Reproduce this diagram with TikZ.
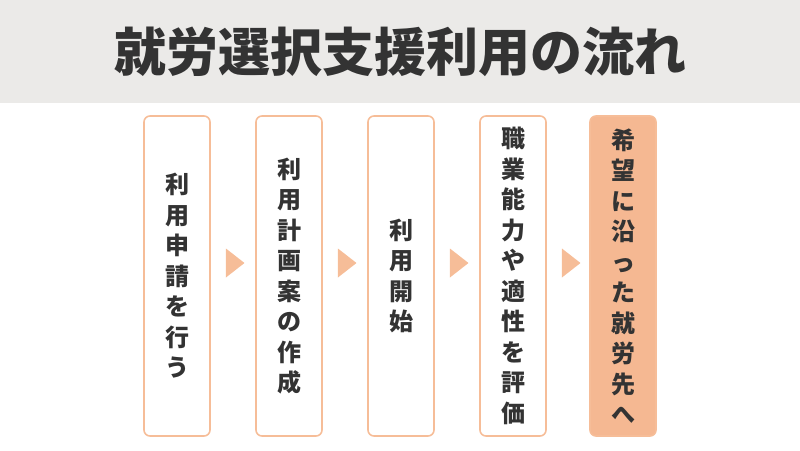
\documentclass[tikz,border=0pt]{standalone}
\usepackage{fontspec}
\setmainfont{Noto Sans CJK JP}
\usetikzlibrary{shapes.geometric}

\definecolor{bandgray}{HTML}{EBEAE8}
\definecolor{inkgray}{HTML}{333333}
\definecolor{peach}{HTML}{F6BD98}
\definecolor{peachfill}{HTML}{F5B892}

\tikzset{
    stepbox/.style={draw=peach, line width=1.6pt, rounded corners=6pt,
        minimum width=66pt, minimum height=320pt, align=center,
        text=inkgray, font=\fontsize{24}{30.5}\selectfont\bfseries},
    lastbox/.style={stepbox, fill=peachfill},
    pointer/.style={isosceles triangle, isosceles triangle apex angle=76,
        fill=peach, inner sep=0pt, minimum height=13pt, minimum width=29pt}
}

\begin{document}
\begin{tikzpicture}[x=1pt, y=-1pt]
    \useasboundingbox (0,0) rectangle (800,450);
    \fill[bandgray] (0,0) rectangle (800,103);
    \node[text=inkgray, font=\fontsize{52}{52}\selectfont\bfseries] (title) at (400,52) {就労選択支援利用の流れ};

    \node[stepbox] (sA) at (177,276) {利\\用\\申\\請\\を\\行\\う};
    \node[stepbox] (sB) at (289,276) {利\\用\\計\\画\\案\\の\\作\\成};
    \node[stepbox] (sC) at (401,276) {利\\用\\開\\始};
    \node[stepbox] (sD) at (513,276) {職\\業\\能\\力\\や\\適\\性\\を\\評\\価};
    \node[lastbox] (sE) at (623,276) {希\\望\\に\\沿\\っ\\た\\就\\労\\先\\へ};

    \node[pointer] (pA) at (233,263) {};
    \node[pointer] (pB) at (345,263) {};
    \node[pointer] (pC) at (457,263) {};
    \node[pointer] (pD) at (569,263) {};
\end{tikzpicture}
\end{document}
